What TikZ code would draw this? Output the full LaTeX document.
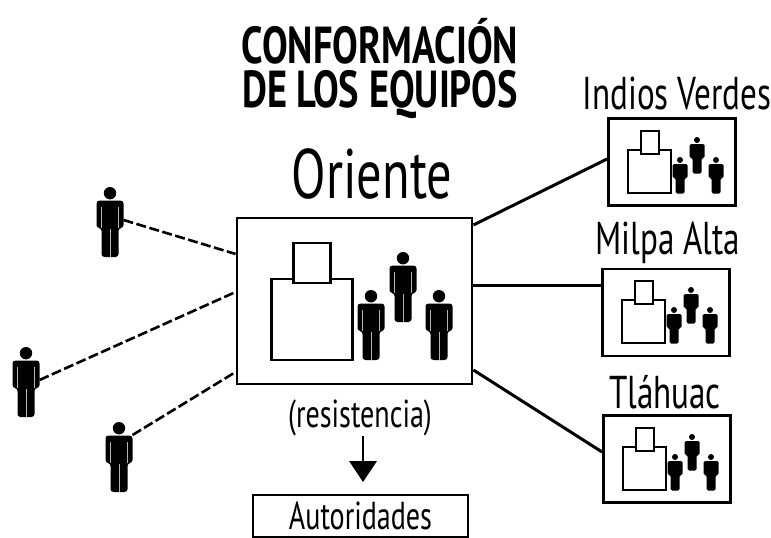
\documentclass[tikz,border=0pt]{standalone}
\usepackage{fontspec}
\setmainfont[FakeStretch=0.72]{PT Sans}
\newfontfamily\titlefont[FakeStretch=0.74,BoldFont={PT Sans Bold}]{PT Sans}
\tikzset{
  teambox/.style={draw,line width=2.8pt,fill=white,inner sep=0pt},
  teamlabel/.style={font=\fontsize{46}{46}\selectfont,inner sep=0pt},
  dashlink/.style={draw,line width=2.6pt,dash pattern=on 10pt off 3.5pt},
  solidlink/.style={draw,line width=3pt},
  person/.pic={
    \fill (0,6.2) circle (6.2);
    \fill[rounded corners=3pt] (-13.5,41) -- (-13.5,13.5) -- (13.5,13.5) -- (13.5,41) -- (8.5,41) -- (8.5,70) -- (-8.5,70) -- (-8.5,41) -- cycle;
    \draw[white,opacity=0.7,line width=0.6pt] (-8.5,20) -- (-8.5,41) (8.5,20) -- (8.5,41) (0,42) -- (0,70);
    \coordinate (-hand) at (13.5,33);
    \coordinate (-shoulder) at (13.5,13);
  },
  smallperson/.pic={
    \fill (0,3) circle (3);
    \fill[rounded corners=1.5pt] (-7.5,21) -- (-7.5,7) -- (7.5,7) -- (7.5,21) -- (4.5,21) -- (4.5,36.5) -- (-4.5,36.5) -- (-4.5,21) -- cycle;
  },
  bighouse/.pic={
    \draw[line width=2.6pt] (-41,0) rectangle (40,81);
    \draw[line width=2.6pt,fill=white] (-19,-36) rectangle (18,4);
  },
  minihouse/.pic={
    \draw[line width=2.2pt] (0,0) rectangle (43,43);
    \draw[line width=2.2pt,fill=white] (13,-19) rectangle (31,4);
    \path (52,7) pic {smallperson};
    \path (69,-13) pic {smallperson};
    \path (88,7) pic {smallperson};
  }
}
\begin{document}
\begin{tikzpicture}[x=1pt,y=-1pt]
\useasboundingbox (0,0) rectangle (771,538);

\node[font=\titlefont\bfseries\fontsize{52}{52}\selectfont,inner sep=0pt] (titleA) at (380,41) {CONFORMACIÓN};
\node[font=\titlefont\bfseries\fontsize{52}{52}\selectfont,inner sep=0pt] (titleB) at (380,95) {DE LOS EQUIPOS};

\node[font=\fontsize{70}{70}\selectfont,inner sep=0pt] (orienteLabel) at (372,174) {Oriente};
\node[teamlabel] (indiosLabel) at (677,93) {Indios Verdes};
\node[teamlabel] (milpaLabel) at (668,243) {Milpa Alta};
\node[teamlabel] (tlahuacLabel) at (665,392) {Tláhuac};
\node[font=\fontsize{39}{39}\selectfont,inner sep=0pt] (resistencia) at (360,418) {(resistencia)};

% main team
\node[teambox,minimum width=235pt,minimum height=166pt] (oriente) at (354.5,301) {};
\path (312.5,279) pic {bighouse};
\path (371,290) pic {person};
\path (403,252) pic {person};
\path (439,290) pic {person};

% small teams
\node[teambox,minimum width=127pt,minimum height=87pt] (indios) at (672,162) {};
\path (628,150) pic {minihouse};
\node[teambox,minimum width=127pt,minimum height=87pt] (milpa) at (666,312.5) {};
\path (622,300) pic {minihouse};
\node[teambox,minimum width=127pt,minimum height=87pt] (tlahuac) at (667,459) {};
\path (623,447) pic {minihouse};

\node[draw,line width=2.8pt,minimum width=215pt,minimum height=42pt,inner sep=0pt,font=\fontsize{39}{39}\selectfont] (autoridades) at (360.5,516) {Autoridades};

% people outside
\path (110,187) pic (vecinoA) {person};
\path (26,347) pic (vecinoB) {person};
\path (119,422) pic (vecinoC) {person};

\draw[dashlink] (vecinoA-hand) -- (oriente.west |- 0,254);
\draw[dashlink] (vecinoB-hand) -- (oriente.west |- 0,292);
\draw[dashlink] (vecinoC-shoulder) -- (oriente.west |- 0,372);

\draw[solidlink] (oriente.east |- 0,225) -- (indios.west |- 0,159);
\draw[solidlink] (oriente.east |- 0,285) -- (milpa.west |- 0,285);
\draw[solidlink] (oriente.east |- 0,370) -- (tlahuac.west |- 0,452);

\draw[line width=2.8pt] (363,436) -- (363,462);
\fill (349,461) -- (377,461) -- (363,482) -- cycle;
\end{tikzpicture}
\end{document}
